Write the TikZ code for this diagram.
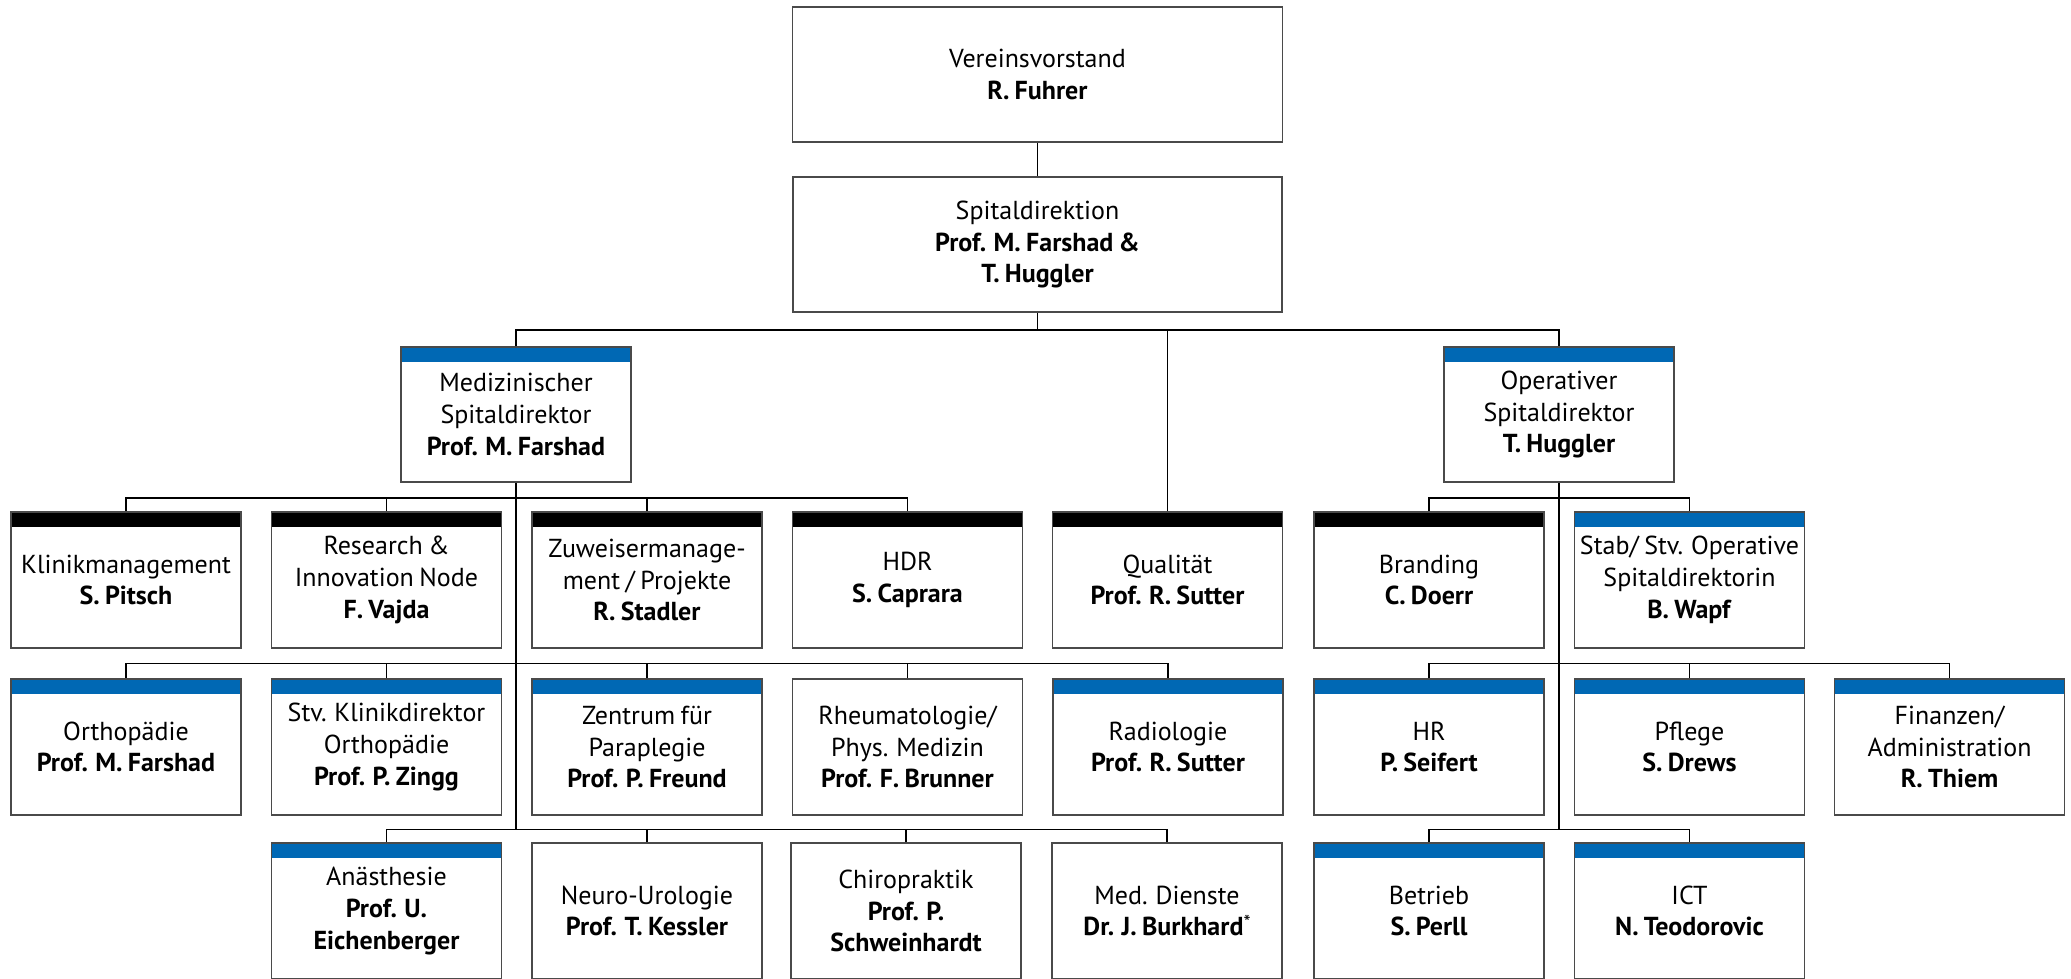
\documentclass[tikz,border=0pt]{standalone}
\usepackage{fontspec}
\setmainfont{PT Sans}[WordSpace=0.8]
\definecolor{orgblue}{HTML}{0068B4}
\definecolor{bordergray}{HTML}{4A4A4A}
\begin{document}
\begin{tikzpicture}[x=1pt,y=-1pt,
  box/.style={draw=bordergray, line width=1.6pt, fill=white, minimum width=230pt, minimum height=136pt,
    inner sep=0pt, align=center, font=\fontsize{26}{31.7}\selectfont},
  blueband/.style={path picture={\fill[orgblue] (path picture bounding box.north west) rectangle ([yshift=-14.5pt]path picture bounding box.north east);}},
  blackband/.style={path picture={\fill[black] (path picture bounding box.north west) rectangle ([yshift=-14.5pt]path picture bounding box.north east);}},
  conn/.style={line width=1.3pt, draw=black}]
\useasboundingbox (0,0) rectangle (2071,979);
\fill[white] (0,0) rectangle (2071,979);
\clip (0,0) rectangle (2071,979);

% bus levels
\coordinate (bus1) at (0,330);
\coordinate (bus3) at (0,498);
\coordinate (bus4) at (0,663.5);
\coordinate (bus5) at (0,829.5);

% top levels
\node[box, minimum width=490pt, minimum height=135pt] (top) at (1037.5,74.5) {Vereinsvorstand\\\textbf{R. Fuhrer}};
\node[box, minimum width=489pt, minimum height=135pt] (dir) at (1037.5,244.5) {Spitaldirektion\\\textbf{Prof. M. Farshad \&}\\\textbf{T. Huggler}};
\node[box, blueband, minimum height=135pt] (med) at (516,414.5) {Medizinischer\\Spitaldirektor\\\textbf{Prof. M. Farshad}};
\node[box, blueband, minimum height=135pt] (op) at (1559,414.5) {Operativer\\Spitaldirektor\\\textbf{T. Huggler}};

% row 3
\node[box, blackband] (k0) at (126,580) {Klinikmanagement\\\textbf{S. Pitsch}};
\node[box, blackband] (k1) at (386.5,580) {Research \&\\Innovation Node\\\textbf{F. Vajda}};
\node[box, blackband] (k2) at (647,580) {Zuweisermanage-\\ment / Projekte\\\textbf{R. Stadler}};
\node[box, blackband] (k3) at (907.5,580) {HDR\\\textbf{S. Caprara}};
\node[box, blackband] (qual) at (1167.5,580) {Qualität\\\textbf{Prof. R. Sutter}};
\node[box, blackband] (br) at (1429,580) {Branding\\\textbf{C. Doerr}};
\node[box, blueband] (stab) at (1689.5,580) {Stab/ Stv. Operative\\Spitaldirektorin\\\textbf{B. Wapf}};

% row 4
\node[box, blueband] (o0) at (126,747) {Orthopädie\\\textbf{Prof. M. Farshad}};
\node[box, blueband] (o1) at (386.5,747) {Stv. Klinikdirektor\\Orthopädie\\\textbf{Prof. P. Zingg}};
\node[box, blueband] (o2) at (647,747) {Zentrum für\\Paraplegie\\\textbf{Prof. P. Freund}};
\node[box] (o3) at (907.5,747) {Rheumatologie/\\Phys. Medizin\\\textbf{Prof. F. Brunner}};
\node[box, blueband] (o4) at (1168,747) {Radiologie\\\textbf{Prof. R. Sutter}};
\node[box, blueband] (hr) at (1429,747) {HR\\\textbf{P. Seifert}};
\node[box, blueband] (pfl) at (1689.5,747) {Pflege\\\textbf{S. Drews}};
\node[box, blueband] (fin) at (1949.5,747) {Finanzen/\\Administration\\\textbf{R. Thiem}};

% row 5
\node[box, blueband] (a1) at (386.5,911) {Anästhesie\\\textbf{Prof. U.}\\\textbf{Eichenberger}};
\node[box] (a2) at (647,911) {Neuro-Urologie\\\textbf{Prof. T. Kessler}};
\node[box] (a3) at (906,911) {Chiropraktik\\\textbf{Prof. P.}\\\textbf{Schweinhardt}};
\node[box] (a4) at (1167,911) {Med. Dienste\\\textbf{Dr. J. Burkhard}\raisebox{0.25em}{\fontsize{20}{20}\selectfont *}};
\node[box, blueband] (betr) at (1429,911) {Betrieb\\\textbf{S. Perll}};
\node[box, blueband] (ict) at (1689.5,911) {ICT\\\textbf{N. Teodorovic}};

% connectors
\draw[conn] (top.south) -- (dir.north);
\draw[conn] (dir.south) -- (dir.south |- bus1);
\draw[conn] (med.north) |- (op.north |- bus1) -- (op.north);
\draw[conn] (qual.north) -- (qual.north |- bus1);

\draw[conn] (med.south) -- (med.south |- bus5);
\draw[conn] (k0.north) |- (k3.north |- bus3) -- (k3.north);
\draw[conn] (k1.north) -- (k1.north |- bus3);
\draw[conn] (k2.north) -- (k2.north |- bus3);

\draw[conn] (o0.north) |- (o4.north |- bus4) -- (o4.north);
\draw[conn] (o1.north) -- (o1.north |- bus4);
\draw[conn] (o2.north) -- (o2.north |- bus4);
\draw[conn] (o3.north) -- (o3.north |- bus4);

\draw[conn] (a1.north) |- (a4.north |- bus5) -- (a4.north);
\draw[conn] (a2.north) -- (a2.north |- bus5);
\draw[conn] (a3.north) -- (a3.north |- bus5);

\draw[conn] (op.south) -- (op.south |- bus5);
\draw[conn] (br.north) |- (stab.north |- bus3) -- (stab.north);
\draw[conn] (hr.north) |- (fin.north |- bus4) -- (fin.north);
\draw[conn] (pfl.north) -- (pfl.north |- bus4);
\draw[conn] (betr.north) |- (ict.north |- bus5) -- (ict.north);
\end{tikzpicture}
\end{document}
